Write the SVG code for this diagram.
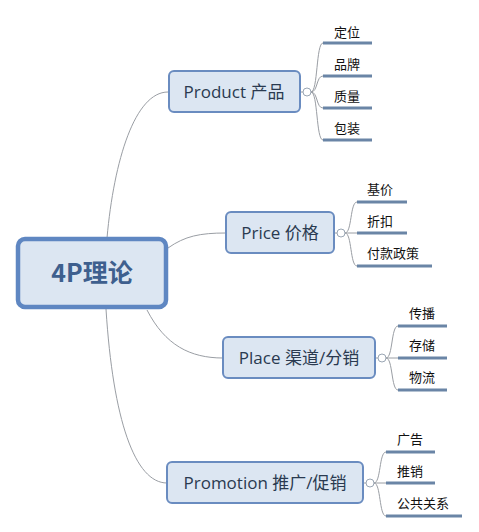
<svg xmlns="http://www.w3.org/2000/svg" width="479" height="532" viewBox="0 0 479 532">
<style>
.bg{fill:#ffffff}
.conn{fill:none;stroke:#9a9ea4;stroke-width:1}
.topic rect{fill:#dce6f2;stroke:#6a8cc0;stroke-width:2}
.topic text{font-family:"Open Sans","Noto Sans CJK SC",sans-serif;font-size:17px;fill:#2a3a50;text-anchor:middle}
.root rect{fill:#dce6f2;stroke:#5f87c2;stroke-width:4.5}
.root text{font-family:"Noto Sans CJK SC",sans-serif;font-size:25px;font-weight:bold;fill:#3e5f8e;text-anchor:middle}
.col{fill:#ffffff;stroke:#9aa6b4;stroke-width:1}
.leaf line{stroke:#6a85a6;stroke-width:3}
.leaf text{font-family:"Noto Sans CJK SC",sans-serif;font-size:13px;fill:#111111}
</style>
<rect class="bg" x="0" y="0" width="479" height="532"/>
<g id="connectors">
<path class="conn" d="M107,238 C114,160 135,92 168,92"/>
<path class="conn" d="M168,248 C185,236 200,233 226,233"/>
<path class="conn" d="M147,310 C165,345 190,358 223,358"/>
<path class="conn" d="M106,309 C113,420 135,483 167,483"/>
<path class="conn" d="M300,92 L303,92"/>
<path class="conn" d="M311,92 C318,92 316,43 323,43 M311,92 C318,92 316,76 323,76 M311,92 C318,92 316,108 323,108 M311,92 C318,92 316,140 323,140"/>
<path class="conn" d="M334,233 L337,233"/>
<path class="conn" d="M345,233 C352,233 350,202 357,202 M345,233 L357,233 M345,233 C352,233 350,266 357,266"/>
<path class="conn" d="M375,358 L378,358"/>
<path class="conn" d="M386,358 C393,358 391,326 398,326 M386,358 L398,358 M386,358 C393,358 391,390 398,390"/>
<path class="conn" d="M363,483 L366,483"/>
<path class="conn" d="M374,483 C381,483 379,452 386,452 M374,483 L386,483 M374,483 C381,483 379,516 386,516"/>
</g>
<g id="root" class="root">
<rect x="18" y="239" width="148" height="68" rx="7"/>
<text x="92" y="282">4P理论</text>
</g>
<g id="product" class="topic">
<rect x="169" y="71" width="131" height="41" rx="5"/>
<text x="234" y="98">Product 产品</text>
<circle class="col" cx="307" cy="92" r="4"/>
</g>
<g id="product-leaves" class="leaf">
<text x="334" y="37">定位</text><line x1="323" y1="43" x2="372" y2="43"/>
<text x="334" y="69">品牌</text><line x1="323" y1="76" x2="372" y2="76"/>
<text x="334" y="101">质量</text><line x1="323" y1="108" x2="372" y2="108"/>
<text x="334" y="133">包装</text><line x1="323" y1="140" x2="372" y2="140"/>
</g>
<g id="price" class="topic">
<rect x="226" y="212" width="108" height="41" rx="5"/>
<text x="280" y="239">Price 价格</text>
<circle class="col" cx="341" cy="233" r="4"/>
</g>
<g id="price-leaves" class="leaf">
<text x="367" y="194">基价</text><line x1="357" y1="202" x2="407" y2="202"/>
<text x="367" y="226">折扣</text><line x1="357" y1="233" x2="407" y2="233"/>
<text x="367" y="258">付款政策</text><line x1="357" y1="266" x2="432" y2="266"/>
</g>
<g id="place" class="topic">
<rect x="223" y="337" width="152" height="41" rx="5"/>
<text x="299" y="364">Place 渠道/分销</text>
<circle class="col" cx="382" cy="358" r="4"/>
</g>
<g id="place-leaves" class="leaf">
<text x="409" y="318">传播</text><line x1="398" y1="326" x2="447" y2="326"/>
<text x="409" y="350">存储</text><line x1="398" y1="358" x2="447" y2="358"/>
<text x="409" y="382">物流</text><line x1="398" y1="390" x2="447" y2="390"/>
</g>
<g id="promotion" class="topic">
<rect x="167" y="462" width="196" height="41" rx="5"/>
<text x="265" y="489">Promotion 推广/促销</text>
<circle class="col" cx="370" cy="483" r="4"/>
</g>
<g id="promotion-leaves" class="leaf">
<text x="397" y="444">广告</text><line x1="386" y1="452" x2="435" y2="452"/>
<text x="397" y="476">推销</text><line x1="386" y1="483" x2="435" y2="483"/>
<text x="397" y="508">公共关系</text><line x1="386" y1="516" x2="462" y2="516"/>
</g>
</svg>
